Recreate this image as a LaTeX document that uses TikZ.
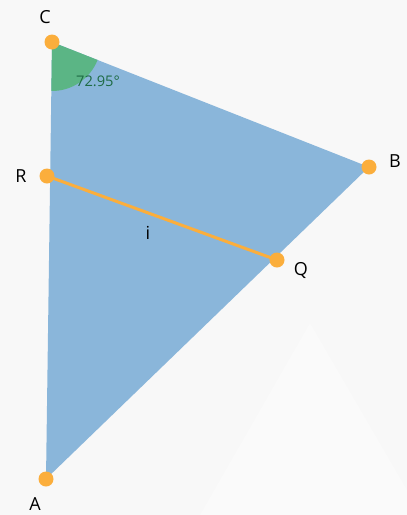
\documentclass[tikz,border=0pt]{standalone}
\usepackage{fontspec}
\setmainfont{Open Sans}
\usetikzlibrary{angles, calc}
\definecolor{cback}{HTML}{F8F8F8}
\definecolor{cmark}{HTML}{FAFAFA}
\definecolor{cblue}{HTML}{8AB6DA}
\definecolor{corange}{HTML}{FBAE3C}
\definecolor{cgreen}{HTML}{5BB585}
\definecolor{cdkgreen}{HTML}{1E6B45}
\tikzset{
  every picture/.style={x=0.75pt, y=-0.75pt},
  dot/.style={circle, fill=corange, inner sep=0pt, minimum size=11.25pt},
  lbl/.style={font=\fontsize{13.5}{16}\selectfont, text=black, inner sep=0pt},
  anglbl/.style={font=\fontsize{11}{13}\selectfont, text=cdkgreen, inner sep=0pt},
}

\begin{document}
\begin{tikzpicture}
  % background and faint watermark
  \fill[cback] (0,0) rectangle (407,515);
  \fill[cmark] (310,323) -- (407,490) -- (407,515) -- (200,515) -- cycle;
  \useasboundingbox (0,0) rectangle (407,515);
  % points
  \coordinate (C) at (52,42);
  \coordinate (B) at (369,167);
  \coordinate (A) at (46,479);
  \coordinate (R) at (47,176);
  \coordinate (Q) at (277,260);
  % triangle and angle
  \fill[cblue] (C) -- (B) -- (A) -- cycle;
  \pic[fill=cgreen, draw=none, angle radius=36.75pt] {angle = A--C--B};
  \node[anglbl] (ang) at (98,81) {72.95°};
  % segment i
  \draw[corange, line width=2.25pt] (R) -- (Q);
  \node[lbl] (li) at (148,233) {i};
  % dots
  \node[dot] (dC) at (C) {};
  \node[dot] (dB) at (B) {};
  \node[dot] (dA) at (A) {};
  \node[dot] (dR) at (R) {};
  \node[dot] (dQ) at (Q) {};
  % labels
  \node[lbl] (lC) at (45,17) {C};
  \node[lbl] (lB) at (395,161) {B};
  \node[lbl] (lA) at (35,504) {A};
  \node[lbl] (lR) at (21,176) {R};
  \node[lbl] (lQ) at (301,270) {Q};
\end{tikzpicture}
\end{document}
